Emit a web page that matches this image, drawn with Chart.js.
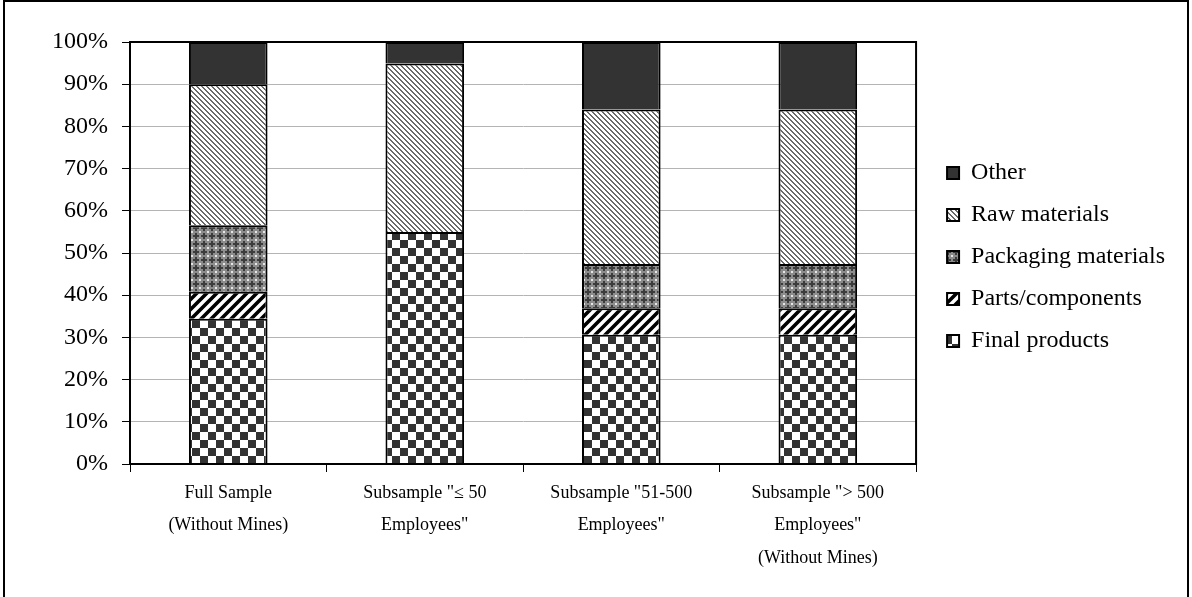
<!DOCTYPE html>
<html>
<head>
<meta charset="utf-8">
<script src="https://cdn.jsdelivr.net/npm/chart.js@4.4.1/dist/chart.umd.min.js"></script>
<style>
  body { margin: 0; background: #fff; }
  canvas { display: block; }
</style>
</head>
<body>
<canvas id="myChart" width="1192" height="597"></canvas>
<script>
var categories = [
  ["Full Sample", "(Without Mines)"],
  ["Subsample \"\u2264 50", "Employees\""],
  ["Subsample \"51-500", "Employees\""],
  ["Subsample \"> 500", "Employees\"", "(Without Mines)"]
];
var finalProducts = [34.4, 55.0, 30.6, 30.6];
var partsComponents = [6.4, 0, 6.3, 6.3];
var packagingMaterials = [15.8, 0, 10.5, 10.5];
var rawMaterials = [33.4, 39.9, 36.6, 36.6];
var other = [10.0, 5.1, 16.0, 16.0];
var tickStep = 10;

var serif = "'Liberation Serif', 'Times New Roman', serif";

// small tiles used as bar fills
function makePattern(size, draw) {
  var c = document.createElement("canvas");
  c.width = size;
  c.height = size;
  var g = c.getContext("2d");
  g.fillStyle = "#fff";
  g.fillRect(0, 0, size, size);
  draw(g, size);
  return g.createPattern(c, "repeat");
}

var checker = makePattern(16, function (g) {
  g.fillStyle = "#333";
  g.fillRect(0, 0, 8, 8);
  g.fillRect(8, 8, 8, 8);
});

var wideStripes = makePattern(10, function (g) {
  g.strokeStyle = "#000";
  g.lineWidth = 3.6;
  g.beginPath();
  g.moveTo(-5, 5); g.lineTo(5, -5);
  g.moveTo(0, 10); g.lineTo(10, 0);
  g.moveTo(5, 15); g.lineTo(15, 5);
  g.stroke();
});

var thinStripes = makePattern(5, function (g) {
  g.fillStyle = "#6a6a6a";
  for (var y = 0; y < 5; y++) {
    g.fillRect(y, y, 1, 1);
    g.fillRect((y + 1) % 5, y, 1, 1);
  }
});

var plaid = makePattern(8, function (g) {
  g.fillStyle = "#8c8c8c";
  g.fillRect(0, 0, 8, 8);
  g.fillStyle = "#3c3c3c";
  g.fillRect(3, 1, 2, 6);
  g.fillRect(1, 3, 6, 2);
  g.fillStyle = "#e6e6e6";
  g.fillRect(0, 0, 1, 1);
  g.fillRect(7, 0, 1, 1);
  g.fillRect(0, 7, 1, 1);
  g.fillRect(7, 7, 1, 1);
});

// white page, outer frame and the black box round the plot
var frame = {
  id: "frame",
  beforeDraw: function (chart) {
    var ctx = chart.ctx;
    ctx.save();
    ctx.fillStyle = "#fff";
    ctx.fillRect(0, 0, chart.width, chart.height);
    ctx.strokeStyle = "#000";
    ctx.lineWidth = 2;
    ctx.strokeRect(4, 1, chart.width - 8, chart.height + 20);
    ctx.restore();
  },
  afterDraw: function (chart) {
    var a = chart.chartArea;
    var ctx = chart.ctx;
    ctx.save();
    ctx.strokeStyle = "#000";
    ctx.lineWidth = 2;
    ctx.strokeRect(a.left, a.top, a.right - a.left, a.bottom - a.top);
    ctx.restore();
  }
};

function bar(label, data, fill) {
  return {
    label: label,
    data: data,
    backgroundColor: fill,
    borderColor: "#000",
    borderWidth: 2,
    categoryPercentage: 1,
    barPercentage: 0.4
  };
}

var chart = new Chart(document.getElementById("myChart").getContext("2d"), {
  type: "bar",
  data: {
    labels: categories,
    datasets: [
      bar("Final products", finalProducts, checker),
      bar("Parts/components", partsComponents, wideStripes),
      bar("Packaging materials", packagingMaterials, plaid),
      bar("Raw materials", rawMaterials, thinStripes),
      bar("Other", other, "#333")
    ]
  },
  options: {
    responsive: false,
    animation: false,
    devicePixelRatio: 1,
    layout: { padding: { top: 42, left: 0, right: 17, bottom: 0 } },
    plugins: {
      tooltip: { enabled: false },
      legend: {
        position: "right",
        fullSize: false,
        reverse: true,
        // empty title only nudges the items down a little
        title: { display: true, text: "", padding: 1, font: { size: 6, lineHeight: 1 } },
        labels: {
          boxWidth: 12,
          boxHeight: 12,
          padding: 18,
          color: "#000",
          font: { family: serif, size: 24 }
        }
      }
    },
    scales: {
      x: {
        stacked: true,
        afterFit: function (s) { s.height = 133; },
        grid: {
          offset: true,
          drawOnChartArea: false,
          tickLength: 8,
          tickColor: "#000"
        },
        border: { color: "#000", width: 2 },
        ticks: {
          color: "#000",
          padding: 5,
          maxRotation: 0,
          autoSkip: false,
          font: { family: serif, size: 18, lineHeight: 1.8 }
        }
      },
      y: {
        stacked: true,
        min: 0,
        max: 100,
        afterFit: function (s) { s.width = 130; },
        grid: { color: "#b4b4b4", tickLength: 8, tickColor: "#000" },
        border: { color: "#000", width: 2 },
        ticks: {
          stepSize: tickStep,
          color: "#000",
          padding: 14,
          font: { family: serif, size: 24 },
          callback: function (v) { return v + "%"; }
        }
      },
      // empty strip between the plot and the legend
      gap: {
        type: "linear",
        position: "right",
        display: false,
        afterFit: function (s) { s.width = 13; }
      }
    }
  },
  plugins: [frame]
});
</script>
</body>
</html>
